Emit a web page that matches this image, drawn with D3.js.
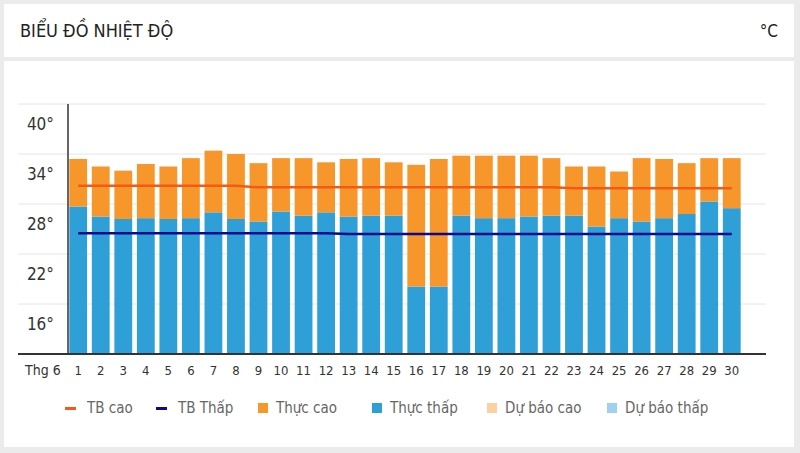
<!DOCTYPE html>
<html><head><meta charset="utf-8">
<script src="https://cdn.jsdelivr.net/npm/d3@7"></script>
<style>
html,body{margin:0;padding:0;background:#ebebeb;}
svg{display:block;}
text{font-family:'Liberation Sans Narrow','DejaVu Sans Condensed',sans-serif;}
</style></head><body>
<svg id="c" width="800" height="453"></svg>
<script>
const days = d3.range(1, 31);
const slots = d3.range(1, 32);
const highs = [33.4,32.5,32.0,32.8,32.5,33.5,34.4,34.0,32.9,33.5,33.5,33.0,33.4,33.5,33.0,32.7,33.4,33.8,33.8,33.8,33.8,33.5,32.5,32.5,31.9,33.5,33.4,32.9,33.5,33.5];
const lows  = [27.7,26.5,26.2,26.3,26.2,26.3,27.0,26.2,25.9,27.1,26.6,27.0,26.5,26.6,26.6,18.1,18.1,26.6,26.3,26.3,26.5,26.6,26.6,25.3,26.3,25.9,26.3,26.8,28.3,27.5];
const avgHigh = [30.2,30.2,30.2,30.2,30.2,30.2,30.2,30.2,30.0,30.0,30.0,30.0,30.0,30.0,30.0,30.0,30.0,30.0,30.0,30.0,30.0,30.0,29.9,29.9,29.9,29.9,29.9,29.9,29.9,29.9];
const avgLow  = [24.5,24.5,24.5,24.5,24.5,24.5,24.5,24.5,24.5,24.5,24.5,24.5,24.4,24.4,24.4,24.4,24.4,24.4,24.4,24.4,24.4,24.4,24.4,24.4,24.4,24.4,24.4,24.4,24.4,24.4];
const yTicks = [16, 22, 28, 34, 40];
const monthLabel = "Thg 6";
const title = "BIỂU ĐỒ NHIỆT ĐỘ";
const unit = "°C";
const legendNames = ["TB cao","TB Thấp","Thực cao","Thực thấp","Dự báo cao","Dự báo thấp"];

const C = {avgHigh:"#f25a16", avgLow:"#0a0a8c", high:"#f7962b", low:"#2f9fd8", fHigh:"#fdd0a2", fLow:"#9fd0ee"};
const legendColors = [C.avgHigh, C.avgLow, C.high, C.low, C.fHigh, C.fLow];
const legendShapes = ["line","line","rect","rect","rect","rect"];

const svg = d3.select("#c");
// cards
svg.append("rect").attr("x",4).attr("y",4).attr("width",790).attr("height",53).attr("fill","#fff");
svg.append("rect").attr("x",4).attr("y",61).attr("width",790).attr("height",386).attr("fill","#fff");

svg.append("text").attr("x",20).attr("y",37).attr("font-size",18).attr("fill","#222").text(title);
svg.append("text").attr("x",778).attr("y",37).attr("text-anchor","end").attr("font-size",17).attr("fill","#222").text(unit);

const x = d3.scaleBand().domain(slots).range([67.5, 765]).paddingInner(0.21).paddingOuter(0.08);
const y = d3.scaleLinear().domain([10, 40]).range([354, 104]);

// gridlines
svg.append("g").selectAll("line").data(yTicks).join("line")
  .attr("x1",18).attr("x2",766).attr("y1",d=>y(d)).attr("y2",d=>y(d))
  .attr("stroke","#e6e6e6").attr("stroke-width",1);

// y labels (placed below their gridline)
svg.append("g").selectAll("text").data(yTicks).join("text")
  .attr("x",54).attr("y",d=>y(d)+26).attr("text-anchor","end")
  .attr("font-size",17).attr("fill","#333").text(d=>d+"°");

// bars
const g = svg.append("g");
g.selectAll("rect.lo").data(days).join("rect").attr("class","lo")
  .attr("x",d=>x(d)).attr("width",x.bandwidth())
  .attr("y",(d,i)=>y(lows[i])).attr("height",(d,i)=>y(10)-y(lows[i]))
  .attr("fill",C.low);
g.selectAll("rect.hi").data(days).join("rect").attr("class","hi")
  .attr("x",d=>x(d)).attr("width",x.bandwidth())
  .attr("y",(d,i)=>y(highs[i])).attr("height",(d,i)=>y(lows[i])-y(highs[i]))
  .attr("fill",C.high);

// avg lines
const line = d3.line().x((v,i)=>x(days[i])+x.bandwidth()/2).y(v=>y(v));
svg.append("path").attr("d",line(avgHigh)).attr("fill","none").attr("stroke",C.avgHigh).attr("stroke-width",2.5);
svg.append("path").attr("d",line(avgLow)).attr("fill","none").attr("stroke",C.avgLow).attr("stroke-width",2.5);

// axes lines
svg.append("line").attr("x1",68).attr("x2",68).attr("y1",104).attr("y2",354).attr("stroke","#333").attr("stroke-width",1.5);
svg.append("line").attr("x1",18).attr("x2",766).attr("y1",354).attr("y2",354).attr("stroke","#333").attr("stroke-width",2);

// x labels
svg.append("g").selectAll("text").data(days).join("text")
  .attr("x",d=>x(d)+x.bandwidth()/2).attr("y",375).attr("text-anchor","middle")
  .attr("font-size",13).attr("fill","#333").text(d=>d);
svg.append("text").attr("x",25).attr("y",375).attr("font-size",14).attr("fill","#333").text(monthLabel);

// legend
const legendX = [65, 156, 258, 372, 487, 607];
const lg = svg.append("g");
legendNames.forEach((n,i)=>{
  const gx = legendX[i];
  if (legendShapes[i]==="line") {
    lg.append("rect").attr("x",gx).attr("y",407).attr("width",11).attr("height",3).attr("fill",legendColors[i]);
  } else {
    lg.append("rect").attr("x",gx).attr("y",403).attr("width",10).attr("height",10).attr("fill",legendColors[i]);
  }
  lg.append("text").attr("x",gx+(legendShapes[i]==="line"?22:18)).attr("y",413).attr("font-size",15).attr("fill","#666").text(n);
});
</script></body></html>
